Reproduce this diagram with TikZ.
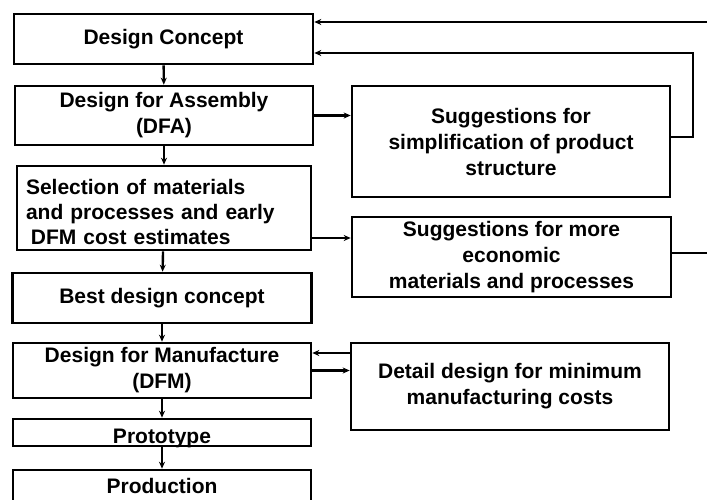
\documentclass[tikz,border=0pt]{standalone}
\usepackage{fontspec}
\setmainfont{Liberation Sans}
\usetikzlibrary{arrows.meta}
\begin{document}
\begin{tikzpicture}[x=1pt,y=-1pt,
  box/.style={draw, line width=2.6pt, inner sep=0pt, align=center,
    font=\fontsize{21}{26}\selectfont\bfseries},
  conn/.style={line width=2.4pt, -{Stealth[length=7pt,width=6pt]}},
  thin/.style={line width=1.2pt}]
\clip (0,0) rectangle (707,500);
\fill[white] (0,0) rectangle (707,500);
% left column
\node[box, minimum width=299pt, minimum height=50pt] (dc) at (163.5,39) {Design Concept};
\node[box, minimum width=298pt, minimum height=59pt] (dfa) at (164,115.5) {Design for Assembly\\(DFA)};
\node[box, minimum width=294pt, minimum height=84pt, text width=276pt, inner xsep=9pt, align=left,
  font=\fontsize{21}{25}\selectfont\bfseries] (sel) at (164,208)
  {\rule{0pt}{24pt}Selection of materials\\and processes and early\\\hspace*{5pt}DFM cost estimates};
\node[box, minimum width=299pt, minimum height=50pt] (best) at (162,298) {Best design concept};
\node[box, minimum width=298pt, minimum height=55pt] (dfm) at (162,370.5) {Design for Manufacture\\(DFM)};
\node[box, minimum width=298pt, minimum height=27pt] (proto) at (162,432.5) {\raisebox{-11pt}[0pt][0pt]{Prototype}};
\node[box, minimum width=298pt, minimum height=50pt, text depth=18pt] (prod) at (162,495) {Production};
% right column
\node[box, minimum width=318pt, minimum height=111pt] (simp) at (511,141.5) {Suggestions for\\simplification of product\\structure};
\node[box, minimum width=319pt, minimum height=80pt] (econ) at (511.5,257) {Suggestions for more\\economic\\materials and processes};
\node[box, minimum width=318pt, minimum height=87pt] (det) at (510,386.5) {Detail design for minimum\\manufacturing costs};
% vertical flow
\draw[conn] (dc) -- (dfa);
\draw[conn] (dfa) -- (sel);
\draw[conn] (sel) -- (best);
\draw[conn] (best) -- (dfm);
\draw[conn] (dfm) -- (proto);
\draw[conn] (proto) -- (prod);
% coordinates
\coordinate (e1) at (707,22);
\coordinate (e2) at (693,53);
\coordinate (s1) at (693,137);
\coordinate (p3) at (0,238);
\coordinate (p4) at (707,253);
\coordinate (p5) at (0,353);
% feedback to design concept
\draw[conn] (e1) -- (dc.east |- e1);
\draw[conn] (simp.east |- s1) -- (s1) -- (e2) -- (dc.east |- e2);
% to suggestions
\draw[conn] (dfa.east) -- (dfa.east -| simp.west);
\draw[conn] (sel.east |- p3) -- (econ.west |- p3);
\draw[thin] (econ.east |- p4) -- (p4);
% DFM <-> detail
\draw[conn] (det.west |- p5) -- (dfm.east |- p5);
\draw[conn] (dfm.east) -- (dfm.east -| det.west);
\end{tikzpicture}
\end{document}
